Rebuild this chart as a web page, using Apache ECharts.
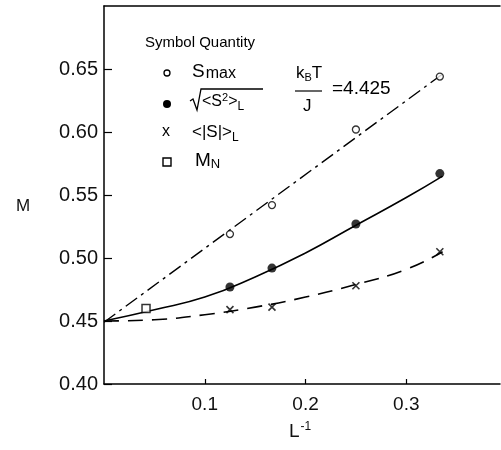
<!DOCTYPE html>
<html><head><meta charset="utf-8">
<script src="https://cdn.jsdelivr.net/npm/echarts@6/dist/echarts.min.js"></script>
<style>html,body{margin:0;padding:0;background:#fff}#c{width:501px;height:450px}</style>
</head><body><div id="c"></div>
<script>
// L^-1 values
const invL = [0.125, 0.1667, 0.25, 0.3333];
const sMax = [0.519, 0.542, 0.602, 0.644];
const sRms = [0.477, 0.492, 0.527, 0.567];
const sAbs = [0.459, 0.461, 0.478, 0.505];
const mNx = [0.0417];
const mNy = [0.460];
// fitted curves
const fitMaxX = [0, 0.336];
const fitMaxY = [0.449, 0.646];
const fitRmsX = [0, 0.05, 0.1, 0.15, 0.2, 0.25, 0.3, 0.336];
const fitRmsY = [0.450, 0.459, 0.469, 0.485, 0.504, 0.526, 0.548, 0.565];
const fitAbsX = [0, 0.05, 0.1, 0.15, 0.2, 0.25, 0.3, 0.336];
const fitAbsY = [0.450, 0.451, 0.455, 0.461, 0.469, 0.479, 0.491, 0.505];
const xTicks = [0.1, 0.2, 0.3];
const yTicks = [0.40, 0.45, 0.50, 0.55, 0.60, 0.65];

const zip = (a, b) => a.map((v, i) => [v, b[i]]);
const F = 'Liberation Sans, Arial, sans-serif';
const chart = echarts.init(document.getElementById('c'));
const lineBase = {type: 'line', showSymbol: false, symbol: 'none', z: 2, silent: true};
chart.setOption({
  animation: false,
  grid: {left: 104, top: 6, right: 1, bottom: 66},
  xAxis: [{
    type: 'value', min: 0, max: 0.393, interval: 0.1,
    axisLine: {lineStyle: {color: '#000', width: 1.5}},
    axisTick: {inside: true, length: 5, lineStyle: {color: '#000', width: 1.2}},
    axisLabel: {color: '#111', fontFamily: F, fontSize: 19, margin: 11,
      formatter: v => xTicks.some(t => Math.abs(t - v) < 1e-6) ? v.toFixed(1) : '',
      showMaxLabel: false, showMinLabel: false},
    splitLine: {show: false}
  }, {
    type: 'value', position: 'top', min: 0, max: 0.393,
    axisLine: {show: true, lineStyle: {color: '#000', width: 1.5}},
    axisTick: {show: false}, axisLabel: {show: false}, splitLine: {show: false}
  }],
  yAxis: {
    type: 'value', min: 0.40, max: 0.70, interval: 0.05,
    axisLine: {lineStyle: {color: '#000', width: 1.5}},
    axisTick: {inside: true, length: 8, lineStyle: {color: '#000', width: 1.2}},
    axisLabel: {color: '#111', fontFamily: F, fontSize: 20, margin: 6,
      formatter: v => yTicks.some(t => Math.abs(t - v) < 1e-6) ? v.toFixed(2) : '',
      showMaxLabel: false},
    splitLine: {show: false}
  },
  series: [
    Object.assign({}, lineBase, {data: zip(fitMaxX, fitMaxY), lineStyle: {color: '#000', width: 1.4, type: [14, 5, 3, 5]}}),
    Object.assign({}, lineBase, {data: zip(fitRmsX, fitRmsY), smooth: true, lineStyle: {color: '#000', width: 1.6}}),
    Object.assign({}, lineBase, {data: zip(fitAbsX, fitAbsY), smooth: true, lineStyle: {color: '#000', width: 1.6, type: [15, 9]}}),
    {type: 'scatter', data: zip(invL, sMax), symbol: 'circle', symbolSize: 7, z: 5,
      itemStyle: {color: '#fff', borderColor: '#000', borderWidth: 1.3}},
    {type: 'scatter', data: zip(invL, sRms), symbol: 'circle', symbolSize: 9, z: 5,
      itemStyle: {color: '#000'}},
    {type: 'scatter', data: zip(invL, sAbs), symbol: 'path://M0,0L10,10M10,0L0,10', symbolSize: 7, z: 5,
      itemStyle: {color: 'none', borderColor: '#000', borderWidth: 1.6}},
    {type: 'scatter', data: zip(mNx, mNy), symbol: 'rect', symbolSize: 8, z: 5,
      itemStyle: {color: '#fff', borderColor: '#000', borderWidth: 1.5}}
  ],
  graphic: [
    // axis names
    {type: 'text', left: 16, top: 198, style: {text: 'M', font: '17px ' + F, fill: '#111'}},
    {type: 'text', left: 289, top: 421, style: {
      rich: {a: {font: '19px ' + F, fill: '#111'}, s: {font: '12px ' + F, fill: '#111', padding: [0, 0, 10, 1]}},
      text: '{a|L}{s|-1}'}},
    // legend
    {type: 'text', left: 145, top: 35, style: {text: 'Symbol Quantity', font: '15px ' + F, fill: '#000'}},
    {type: 'circle', shape: {cx: 167, cy: 73, r: 3}, style: {fill: '#fff', stroke: '#000', lineWidth: 1.3}},
    {type: 'circle', shape: {cx: 167, cy: 104, r: 4}, style: {fill: '#000'}},
    {type: 'text', left: 162, top: 124, style: {text: 'x', font: '16px ' + F, fill: '#000'}},
    {type: 'rect', shape: {x: 163, y: 158, width: 8, height: 8}, style: {fill: '#fff', stroke: '#000', lineWidth: 1.4}},
    {type: 'text', left: 192, top: 62, style: {
      rich: {a: {font: '19px ' + F, fill: '#000'}, b: {font: '16px ' + F, fill: '#000', padding: [4, 0, 0, 1]}},
      text: '{a|S}{b|max}'}},
    {type: 'polyline', shape: {points: [[190, 101], [193, 99], [197, 110], [201, 89], [263, 89]]},
      style: {stroke: '#000', lineWidth: 1.3, fill: 'none'}},
    {type: 'text', left: 202, top: 92, style: {
      rich: {a: {font: '16px ' + F, fill: '#000'}, s: {font: '11px ' + F, fill: '#000', padding: [0, 0, 9, 0]},
        l: {font: '12px ' + F, fill: '#000', padding: [10, 0, 0, 0]}},
      text: '{a|<S}{s|2}{a|>}{l|L}'}},
    {type: 'text', left: 192, top: 124, style: {
      rich: {a: {font: '17px ' + F, fill: '#000'}, l: {font: '12px ' + F, fill: '#000', padding: [10, 0, 0, 0]}},
      text: '{a|<|S|>}{l|L}'}},
    {type: 'text', left: 195, top: 151, style: {
      rich: {a: {font: '19px ' + F, fill: '#000'}, l: {font: '13px ' + F, fill: '#000', padding: [8, 0, 0, 0]}},
      text: '{a|M}{l|N}'}},
    {type: 'text', left: 296, top: 65, style: {
      rich: {a: {font: '17px ' + F, fill: '#000'}, l: {font: '11px ' + F, fill: '#000', padding: [8, 0, 0, 0]}},
      text: '{a|k}{l|B}{a|T}'}},
    {type: 'line', shape: {x1: 295, y1: 91, x2: 322, y2: 91}, style: {stroke: '#000', lineWidth: 1.2}},
    {type: 'text', left: 303, top: 98, style: {text: 'J', font: '17px ' + F, fill: '#000'}},
    {type: 'text', left: 332, top: 79, style: {text: '=4.425', font: '19px ' + F, fill: '#000'}}
  ]
});
</script></body></html>
